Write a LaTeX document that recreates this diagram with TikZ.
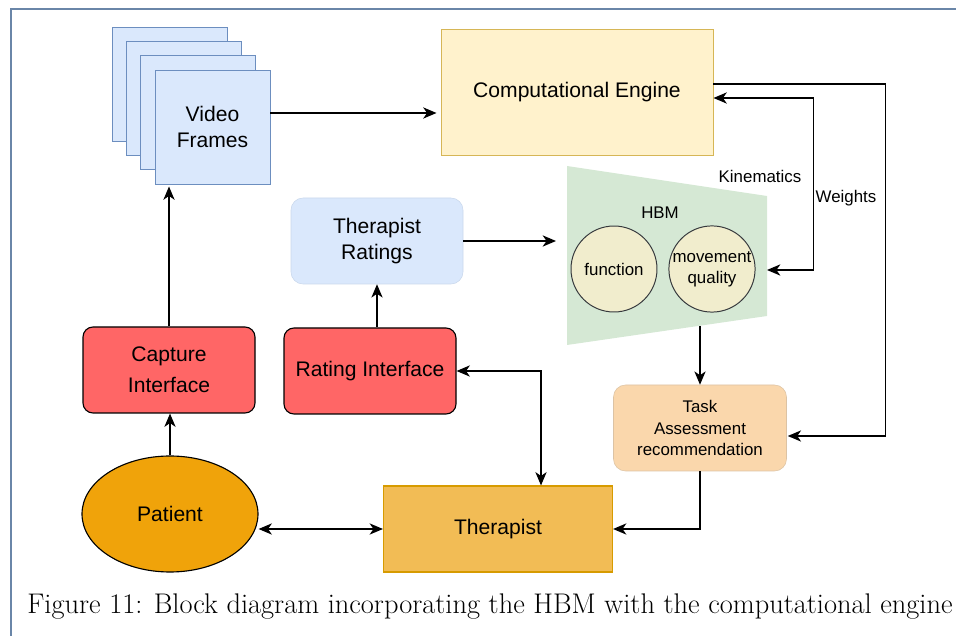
\documentclass[tikz,border=0pt]{standalone}
\usepackage{fontspec}
\usepackage{tikz}
\usetikzlibrary{shapes,arrows.meta,positioning,calc}
\newfontfamily\diagfont{Liberation Sans}
\newdimen\pxu \pxu=0.025cm

\definecolor{frameblue}{HTML}{DAE8FC}
\definecolor{frameedge}{HTML}{6C8EBF}
\definecolor{engfill}{HTML}{FFF2CC}
\definecolor{engedge}{HTML}{D6B656}
\definecolor{hbmgreen}{HTML}{D5E8D4}
\definecolor{circfill}{HTML}{F1EDCD}
\definecolor{circedge}{HTML}{36393D}
\definecolor{ratedge}{HTML}{C9D8EC}
\definecolor{taskfill}{HTML}{FAD7AC}
\definecolor{taskedge}{HTML}{DCC3A4}
\definecolor{therfill}{HTML}{F2BC55}
\definecolor{theredge}{HTML}{D79B00}
\definecolor{patfill}{HTML}{F0A30A}
\definecolor{intfill}{HTML}{FF6666}
\definecolor{pageedge}{HTML}{6A86A8}

\begin{document}
\begin{tikzpicture}[x=1\pxu, y=-1\pxu,
    font=\diagfont\fontsize{15}{18}\selectfont,
    blk/.style={rectangle, align=center, minimum width=172\pxu, minimum height=86\pxu, inner sep=1pt},
    redbox/.style={blk, draw=black, fill=intfill, rounded corners=10\pxu, line width=0.8pt},
    small/.style={font=\diagfont\fontsize{12}{15}\selectfont},
    arr/.style={-{Stealth[length=9.5pt,width=8pt,inset=2.8pt]}, line width=0.9pt},
    arrs/.style={{Stealth[length=9.5pt,width=8pt,inset=2.8pt]}-{Stealth[length=9.5pt,width=8pt,inset=2.8pt]}, line width=0.9pt}]
    \useasboundingbox (0,0) rectangle (956,636);
    \draw[pageedge, line width=1pt] (11,636) -- (11,9) -- (956,9); % page edge

    % Video frames stack
    \foreach \d in {0,14.3,28.6}
        \draw[frameedge, fill=frameblue, line width=0.7pt] (112+\d,27+\d) rectangle ++(115,114);
    \node[rectangle, draw=frameedge, fill=frameblue, line width=0.7pt, minimum width=115\pxu, minimum height=114\pxu, align=center] (frames) at (212.5,127) {Video\\Frames};

    % Computational engine
    \node[rectangle, draw=engedge, fill=engfill, line width=0.7pt, minimum width=272\pxu, minimum height=126\pxu] (eng) at (577,92) {Computational Engine};

    % HBM block
    \fill[hbmgreen] (567,166) -- (767,196) -- (767,316) -- (567,345) -- cycle;
    \coordinate (hbmin) at (556,241);
    \coordinate (hbmright) at (767,270);
    \coordinate (hbmbot) at (700,326);
    \node[small] (hbm) at (660,213) {HBM};
    \node[circle, small, draw=circedge, fill=circfill, line width=0.7pt, minimum size=86\pxu, inner sep=0pt] (func) at (614,269) {function};
    \node[circle, small, draw=circedge, fill=circfill, line width=0.7pt, minimum size=86\pxu, inner sep=0pt, align=center] (mq) at (712,269) {movement\\quality};

    % Ratings and task boxes
    \node[blk, draw=ratedge, fill=frameblue, rounded corners=12\pxu] (ratings) at (377,241) {Therapist\\Ratings};
    \node[blk, small, draw=taskedge, fill=taskfill, rounded corners=12\pxu, minimum width=173\pxu] (task) at (700,428) {Task\\Assessment\\recommendation};

    % Interfaces
    \node[redbox, font=\diagfont\fontsize{15}{22}\selectfont] (capture) at (169,370) {Capture\\Interface};
    \node[redbox] (rating) at (370,371) {Rating Interface};

    % Therapist and patient
    \node[blk, draw=theredge, fill=therfill, line width=0.8pt, minimum width=229\pxu] (ther) at (498,529) {Therapist};
    \node[ellipse, draw=black, fill=patfill, line width=0.8pt, minimum width=176\pxu, minimum height=116\pxu] (patient) at (170,514) {Patient};

    % Connectors
    \coordinate (vf) at ([yshift=14\pxu]frames.east);
    \draw[arr, shorten >=4\pxu] (vf) -- (vf -| eng.west);
    \draw[arr, shorten >=1\pxu] ([yshift=8\pxu]eng.east) -- ++(172,0) |- ([yshift=-8\pxu]task.east);
    \draw[arrs] ([yshift=-6\pxu]eng.east) -- ++(100,0) |- (hbmright);
    \node[small] (kin) at (760,176) {Kinematics};
    \node[small] (wts) at (846,198) {Weights};
    \draw[arr] (ratings.east) -- (hbmin);
    \draw[arr] (hbmbot) -- (task.north);
    \draw[arr] (task.south) |- (ther.east);
    \draw[arrs] (ther.west) -- (ther.west -| patient.east);
    \draw[arr] (patient.north) -- (patient.north |- capture.south);
    \draw[arr, shorten >=2\pxu] (capture.north) -- (capture.north |- frames.south);
    \draw[arr] (ratings.south |- rating.north) -- (ratings.south);
    \draw[arrs] (rating.east) -| ([xshift=43\pxu]ther.north);

    % Caption
    \node[font=\fontsize{20.2}{24}\selectfont] (cap) at (490,607) {Figure 11: Block diagram incorporating the HBM with the computational engine};
\end{tikzpicture}
\end{document}
